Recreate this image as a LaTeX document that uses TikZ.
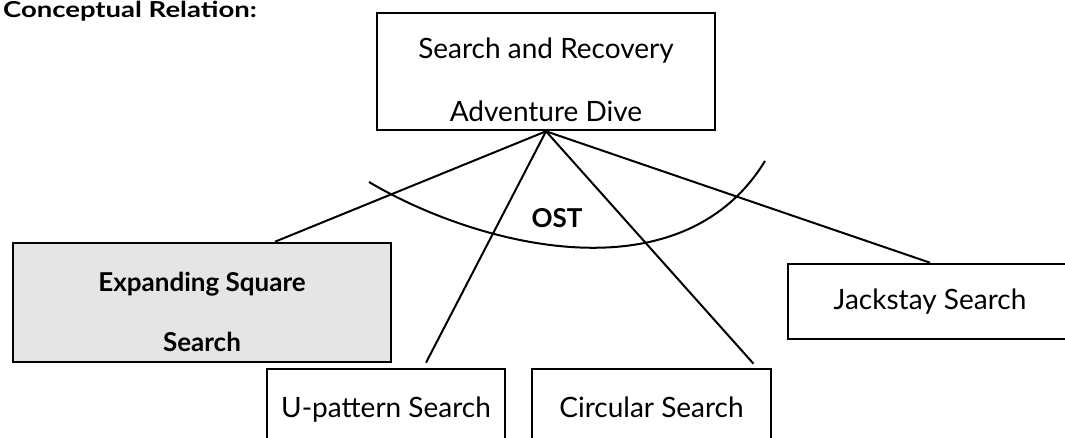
\documentclass[tikz,border=0pt]{standalone}
\usepackage{fontspec}
\setmainfont{Lato}
\newfontfamily\titlefont[FakeStretch=1.25]{Lato}

\begin{document}
\begin{tikzpicture}[x=1pt,y=-1pt,
    box/.style={draw, line width=2.6pt, inner sep=0pt, align=center,
      font=\fontsize{28}{63}\selectfont},
    onebox/.style={box, text height=22pt, text depth=6pt},
    link/.style={line width=2pt}]
      \useasboundingbox (0,0) rectangle (1065,438);

      \node[anchor=base east, inner sep=0pt, font=\titlefont\bfseries\fontsize{22}{26}\selectfont] (title) at (257,18) {Conceptual Relation:};

      \node[box, minimum width=338pt, minimum height=117pt, text height=104pt, text depth=3pt] (dive) at (546,71.5) {Search and Recovery\\Adventure Dive};

      \node[box, fill=gray!20, minimum width=378pt, minimum height=119pt, text height=100pt, text depth=3pt, font=\bfseries\fontsize{26}{60}\selectfont] (esq) at (202,302.5) {Expanding Square\\Search};
      \node[onebox, minimum width=238pt, minimum height=80pt] (upat) at (386,409) {U-pattern Search};
      \node[onebox, minimum width=239pt, minimum height=80pt] (circ) at (651.5,409) {Circular Search};
      \node[onebox, minimum width=284pt, minimum height=75pt] (jack) at (930,301.5) {Jackstay Search};

      \draw[link] (dive.south) -- ([xshift=73pt]esq.north);
      \draw[link] (dive.south) -- ([xshift=40pt,yshift=5pt]upat.north);
      \draw[link] (dive.south) -- ([xshift=102pt,yshift=4pt]circ.north);
      \draw[link] (dive.south) -- (jack.north);

      \draw[link] (369,182) .. controls (475,245) and (680,300) .. (765,161);
      \node[font=\bfseries\fontsize{26}{30}\selectfont] (ost) at (557,218) {OST};
\end{tikzpicture}
\end{document}
